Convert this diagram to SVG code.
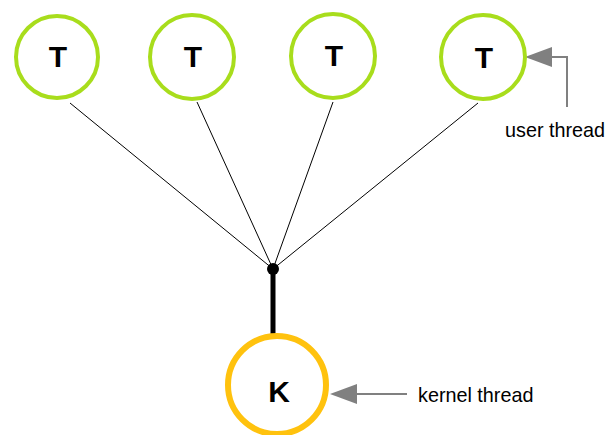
<svg xmlns="http://www.w3.org/2000/svg" width="606" height="435" viewBox="0 0 606 435">
<defs>
<style>
.t{fill:#fff;stroke:#a8dd1c;stroke-width:4}
.k{fill:#fff;stroke:#ffc20e;stroke-width:6}
.lbl{font-family:"Liberation Sans",Arial,sans-serif;font-weight:bold;font-size:30px;fill:#000;text-anchor:middle}
.note{font-family:"Liberation Sans",Arial,sans-serif;font-size:19.8px;fill:#000}
.thin{stroke:#000;stroke-width:1;fill:none}
.grey{stroke:#808080;stroke-width:2;fill:none}
</style>
</defs>
<rect width="606" height="435" fill="#fff"/>
<g id="connectors">
<line class="thin" x1="70" y1="103" x2="273" y2="269"/>
<line class="thin" x1="197" y1="102" x2="273" y2="269"/>
<line class="thin" x1="333" y1="102" x2="273" y2="269"/>
<line class="thin" x1="478" y1="103" x2="273" y2="269"/>
<line x1="273" y1="269" x2="273" y2="338" stroke="#000" stroke-width="5"/>
<circle cx="273" cy="269" r="6" fill="#000"/>
<polyline class="grey" points="567,107 567,57 548,57"/>
<polygon points="525,57 552,47 552,67" fill="#808080"/>
<line class="grey" x1="352" y1="394" x2="407" y2="394"/>
<polygon points="330,394 357,384 357,404" fill="#808080"/>
</g>
<g id="t1"><circle class="t" cx="57" cy="57" r="41"/><text class="lbl" x="58" y="67">T</text></g>
<g id="t2"><circle class="t" cx="192" cy="57" r="42"/><text class="lbl" x="193" y="67">T</text></g>
<g id="t3"><circle class="t" cx="333" cy="56" r="42"/><text class="lbl" x="334" y="66">T</text></g>
<g id="t4"><circle class="t" cx="483" cy="57" r="42"/><text class="lbl" x="484" y="68">T</text></g>
<g id="k"><circle class="k" cx="277" cy="385" r="49"/><text class="lbl" x="279" y="402">K</text></g>
<g id="user-thread-label"><text class="note" x="505" y="137">user thread</text></g>
<g id="kernel-thread-label"><text class="note" x="418" y="402">kernel thread</text></g>
</svg>
